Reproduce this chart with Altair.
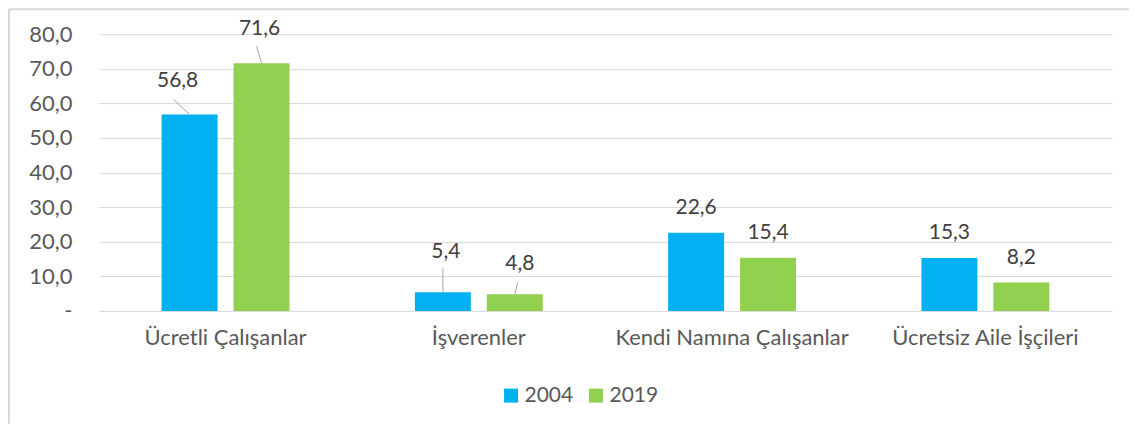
import altair as alt
import pandas as pd

categories = ["Ücretli Çalışanlar", "İşverenler", "Kendi Namına Çalışanlar", "Ücretsiz Aile İşçileri"]
series_names = ["2004", "2019"]
values_2004 = [56.8, 5.4, 22.6, 15.3]
values_2019 = [71.6, 4.8, 15.4, 8.2]
y_ticks = [0, 10, 20, 30, 40, 50, 60, 70, 80]

rows = []
for c, a, b in zip(categories, values_2004, values_2019):
    rows.append({"category": c, "series": "2004", "value": a})
    rows.append({"category": c, "series": "2019", "value": b})
df = pd.DataFrame(rows)

FONT = "Lato"
LABEL_GRAY = "#595959"
W, H = 1014, 277

# label placement (pixels, relative to bar top centre) -- style, not data
label_offsets = {
    ("Ücretli Çalışanlar", "2004"): (-12, -33),
    ("Ücretli Çalışanlar", "2019"): (-2, -34),
    ("İşverenler", "2004"): (3, -40),
    ("İşverenler", "2019"): (5, -30),
}
leader_ends = {
    ("Ücretli Çalışanlar", "2004"): (-16, -15),
    ("Ücretli Çalışanlar", "2019"): (-5, -17),
    ("İşverenler", "2004"): (0, -24),
    ("İşverenler", "2019"): (3, -12),
}
DEFAULT_DY = -25

x = alt.X(
    "category:N", sort=categories,
    scale=alt.Scale(paddingInner=0.495, paddingOuter=0.2475),
    axis=alt.Axis(title=None, labelAngle=0, domain=False, ticks=False, grid=False, labelLimit=0,
                  labelPadding=17, labelFontSize=22, labelColor=LABEL_GRAY, labelFont=FONT),
)
xoff = alt.XOffset("series:N", sort=series_names,
                   scale=alt.Scale(paddingInner=0.222, paddingOuter=0))
y = alt.Y(
    "value:Q", scale=alt.Scale(domain=[0, 80], nice=False),
    axis=alt.Axis(values=y_ticks, title=None, domain=False, ticks=False, labelPadding=27,
                  labelFontSize=22, labelColor=LABEL_GRAY, labelFont=FONT,
                  gridColor="#D9D9D9", gridWidth=1,
                  labelExpr="datum.value == 0 ? '-\u2007\u2009' : replace(format(datum.value, '.1f'), '.', ',')"),
)
color = alt.Color(
    "series:N", sort=series_names,
    scale=alt.Scale(domain=series_names, range=["#00B0F0", "#92D050"]),
    legend=alt.Legend(title=None, orient="none", legendX=402, legendY=351, direction="horizontal",
                      symbolType="square", symbolSize=196, symbolStrokeWidth=0,
                      labelFontSize=21, labelColor=LABEL_GRAY, labelFont=FONT,
                      columnPadding=12, labelOffset=3, padding=0),
)

base = alt.Chart(df)
bars = base.mark_bar().encode(color=color)

label_calc = "replace(format(datum.value, '.1f'), '.', ',')"
special = " || ".join(
    f"(datum.category === '{c}' && datum.series === '{s}')" for (c, s) in label_offsets
)
TEXT_STYLE = dict(align="center", baseline="middle", fontSize=21, font=FONT, color="#404040")
layers = [bars]
layers.append(
    base.transform_calculate(label=label_calc)
    .transform_filter(f"!({special})")
    .mark_text(dy=DEFAULT_DY, **TEXT_STYLE)
    .encode(text="label:N")
)
for (c, s), (dx, dy) in label_offsets.items():
    layers.append(
        base.transform_calculate(label=label_calc)
        .transform_filter(f"datum.category === '{c}' && datum.series === '{s}'")
        .mark_text(dx=dx, dy=dy, **TEXT_STYLE)
        .encode(text="label:N")
    )
SCALE = 20
for (c, s), (ex, ey) in leader_ends.items():
    path = f"M0,0L{ex / SCALE},{ey / SCALE}"
    layers.append(
        base.transform_filter(f"datum.category === '{c}' && datum.series === '{s}'")
        .mark_point(shape=path, size=(2 * SCALE) ** 2, filled=False, stroke="#A6A6A6",
                    strokeWidth=1, opacity=1)
    )

inner = alt.layer(*layers).encode(x=x, xOffset=xoff, y=y)

frame_df = pd.DataFrame({"k": [0]})
top_border = alt.Chart(frame_df).mark_rule(color="#D9D9D9", strokeWidth=2).encode(
    x=alt.value(-90), x2=alt.value(1031), y=alt.value(-25))
left_border = alt.Chart(frame_df).mark_rule(color="#D9D9D9", strokeWidth=2).encode(
    x=alt.value(-90), y=alt.value(-25), y2=alt.value(390))

chart = alt.layer(top_border, left_border, inner).properties(
    width=W, height=H, padding=0, background="white"
).configure_view(stroke=None)

chart.save("out.html", embed_options={"renderer": "svg", "actions": False})
